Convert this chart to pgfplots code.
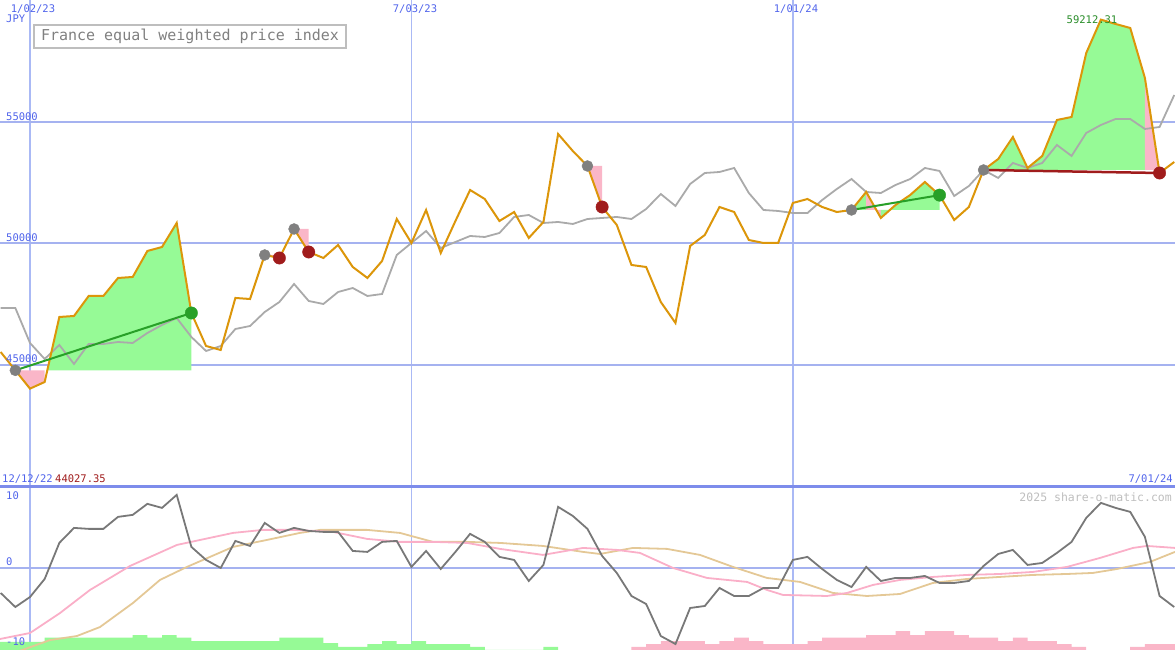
\documentclass[border=0pt]{standalone}
\usepackage{pgfplots}
\pgfplotsset{compat=1.18}
\usepackage{fontspec}
\setmainfont{DejaVu Sans Mono}

\definecolor{gridblue}{RGB}{165,178,240}
\definecolor{vgrid}{RGB}{170,185,245}
\definecolor{borderblue}{RGB}{125,140,235}
\definecolor{lblblue}{RGB}{80,100,235}
\definecolor{orangeline}{RGB}{220,150,10}
\definecolor{grayline}{RGB}{170,170,170}
\definecolor{fillgreen}{RGB}{150,250,150}
\definecolor{fillpink}{RGB}{250,182,200}
\definecolor{tradegreen}{RGB}{40,160,40}
\definecolor{labelgreen}{RGB}{40,140,40}
\definecolor{darkred}{RGB}{160,28,28}
\definecolor{dotgray}{RGB}{128,128,128}
\definecolor{boxgray}{RGB}{190,190,190}
\definecolor{momgray}{RGB}{120,120,120}
\definecolor{pinkline}{RGB}{250,175,200}
\definecolor{tanline}{RGB}{228,200,150}

\pgfplotsset{
  panel/.style={
    scale only axis, width=1175pt,
    xmin=-2.045, xmax=78.05,
    axis line style={draw=none}, tick style={draw=none},
    xtick={0,26,52}, xticklabels={}, yticklabels={},
    xmajorgrids, ymajorgrids,
    every axis x grid/.append style={vgrid, line width=1.5pt},
    every axis y grid/.append style={gridblue, line width=2pt},
  },
}

\begin{document}
\begin{tikzpicture}

% ---------- price panel (weeks from 1/02/23) ----------
\begin{axis}[panel, at={(0pt,163pt)}, height=487pt,
    ymin=39980, ymax=60020, ytick={45000,50000,55000}]

% trade areas
\addplot[fill=fillpink, draw=none] coordinates {(-1,44780) (0,44027) (1,44301) (1,44780)};
\addplot[fill=fillgreen, draw=none] coordinates {(1.18,44780) (2,46976) (3,47017) (4,47840) (5,47840)
  (6,48581) (7,48622) (8,49692) (9,49856) (10,50844) (11,47140) (11,44780)};
\addplot[fill=fillpink, draw=none] coordinates {(16,49527) (17,49404) (17,49527)};
\addplot[fill=fillpink, draw=none] coordinates {(18,50597) (19,49650) (19,50597)};
\addplot[fill=fillpink, draw=none] coordinates {(38,53189) (39,51502) (39,53189)};
\addplot[fill=fillgreen, draw=none] coordinates {(56,51379) (57,52120) (57,51379)};
\addplot[fill=fillpink, draw=none] coordinates {(57,51379) (57,52120) (58,51050) (58,51379)};
\addplot[fill=fillgreen, draw=none] coordinates {(58,51379) (58,51050) (59,51585) (60,51996)
  (61,52531) (62,51990) (62,51379)};
\addplot[fill=fillgreen, draw=none] coordinates {(65,53025) (66,53477) (67,54383) (68,53107)
  (69,53601) (70,55082) (71,55206) (72,57839) (73,59212) (74,59033) (75,58868) (76,56811) (76,53025)};
\addplot[fill=fillpink, draw=none] coordinates {(76,53025) (76,56811) (77,52901) (77,53025)};

% comparison index
\addplot[grayline, line width=1.8pt] coordinates {
 (-2,47346) (-1,47346) (0,45906) (1,45247) (2,45824) (3,45042) (4,45865) (5,45865)
 (6,45947) (7,45906) (8,46317) (9,46647) (10,46935) (11,46153) (12,45577) (13,45782)
 (14,46482) (15,46605) (16,47181) (17,47593) (18,48334) (19,47634) (20,47511) (21,48004)
 (22,48169) (23,47840) (24,47922) (25,49527) (26,50021) (27,50515) (28,49815) (29,50062)
 (30,50309) (31,50268) (32,50432) (33,51091) (34,51173) (35,50844) (36,50885) (37,50803)
 (38,51008) (39,51050) (40,51091) (41,51008) (42,51420) (43,52037) (44,51543) (45,52449)
 (46,52901) (47,52942) (48,53107) (49,52078) (50,51379) (51,51338) (52,51255) (53,51255)
 (54,51790) (55,52243) (56,52654) (57,52120) (58,52078) (59,52408) (60,52654) (61,53107)
 (62,52984) (63,51955) (64,52366) (65,53025) (66,52696) (67,53313) (68,53107) (69,53313)
 (70,54054) (71,53601) (72,54547) (73,54877) (74,55123) (75,55123) (76,54712) (77,54794)
 (78,56111)};

% price
\addplot[orangeline, line width=2pt] coordinates {
 (-2,45535) (-1,44780) (0,44027) (1,44301) (2,46976) (3,47017) (4,47840) (5,47840)
 (6,48581) (7,48622) (8,49692) (9,49856) (10,50844) (11,47140) (12,45782) (13,45618)
 (14,47758) (15,47716) (16,49527) (17,49404) (18,50597) (19,49650) (20,49404) (21,49939)
 (22,49033) (23,48581) (24,49280) (25,51008) (26,50021) (27,51379) (28,49609) (29,50926)
 (30,52202) (31,51831) (32,50926) (33,51296) (34,50227) (35,50885) (36,54506) (37,53807)
 (38,53189) (39,51502) (40,50762) (41,49116) (42,49033) (43,47593) (44,46729) (45,49897)
 (46,50350) (47,51502) (48,51296) (49,50144) (50,50021) (51,50021) (52,51667) (53,51831)
 (54,51502) (55,51296) (56,51379) (57,52120) (58,51050) (59,51585) (60,51996) (61,52531)
 (62,51990) (63,50967) (64,51502) (65,53025) (66,53477) (67,54383) (68,53107) (69,53601)
 (70,55082) (71,55206) (72,57839) (73,59212) (74,59033) (75,58868) (76,56811) (77,52901)
 (78,53354)};

% trade lines
\addplot[tradegreen, line width=2pt] coordinates {(-1,44780) (11,47140)};
\addplot[tradegreen, line width=2pt] coordinates {(56,51379) (62,51990)};
\addplot[darkred, line width=2.5pt] coordinates {(65,53025) (77,52901)};

% entry / exit dots
\addplot[only marks, mark=*, mark size=5.5pt, dotgray] coordinates {
 (-1,44780) (16,49527) (18,50597) (38,53189) (56,51379) (65,53025)};
\addplot[only marks, mark=*, mark size=6.2pt, darkred] coordinates {
 (17,49404) (19,49650) (39,51502) (77,52901)};
\addplot[only marks, mark=*, mark size=6.2pt, tradegreen] coordinates {
 (11,47140) (62,51990)};
\end{axis}

% ---------- oscillator panel ----------
\begin{axis}[panel, at={(0pt,0pt)}, height=163pt,
    ymin=-11.15, ymax=11.0, ytick={0}]

\addplot[const plot, fill=fillgreen, draw=none] coordinates {
 (-2.045,-11.15) (-2.045,-10.03) (1,-9.48) (7,-9.12) (8,-9.48) (9,-9.12) (10,-9.48)
 (11,-9.93) (17,-9.48) (20,-10.2) (21,-10.71) (23,-10.34) (24,-9.93) (25,-10.34)
 (26,-9.93) (27,-10.34) (30,-10.71) (31,-11.15) (35,-11.15) (35,-10.71) (36,-11.15)};
\addplot[const plot, fill=fillpink, draw=none] coordinates {
 (41,-11.15) (41,-10.71) (42,-10.34) (43,-9.93) (46,-10.34) (47,-9.93) (48,-9.48)
 (49,-9.93) (50,-10.34) (53,-9.93) (54,-9.48) (57,-9.12) (59,-8.57) (60,-9.12)
 (61,-8.57) (63,-9.12) (64,-9.48) (66,-9.93) (67,-9.48) (68,-9.93) (70,-10.34)
 (71,-10.71) (72,-11.15)};
\addplot[const plot, fill=fillpink, draw=none] coordinates {
 (75,-11.15) (75,-10.71) (76,-10.34) (78.05,-10.34) (78.05,-11.15)};

\addplot[tanline, line width=1.8pt] coordinates {
 (-2.05,-12.2) (-0.34,-11.02) (1.36,-9.80) (3.20,-9.25) (4.77,-8.03) (7.02,-4.76)
 (8.86,-1.63) (10.70,0.14) (13.84,2.86) (16.16,3.81) (18.40,4.76) (19.77,5.17)
 (22.97,5.17) (25.22,4.76) (27.47,3.54) (29.79,3.54) (32.04,3.40) (34.97,2.99)
 (37.70,2.18) (38.85,1.90) (41.10,2.72) (43.42,2.59) (45.67,1.77) (47.92,0.14)
 (50.24,-1.36) (52.49,-1.90) (54.74,-3.40) (57.05,-3.81) (59.30,-3.54) (61.55,-2.04)
 (63.87,-1.50) (66.12,-1.22) (68.37,-0.95) (70.69,-0.82) (72.46,-0.68) (74.10,-0.14)
 (76.35,0.82) (78.05,2.18)};
\addplot[pinkline, line width=1.8pt] coordinates {
 (-2.05,-9.66) (0,-8.84) (2.05,-6.12) (4.09,-2.99) (6.82,0.27) (10.02,3.13)
 (13.84,4.76) (15.88,5.17) (17.93,5.17) (20.65,4.90) (22.97,3.95) (25.22,3.54)
 (27.47,3.54) (29.79,3.40) (32.04,2.59) (34.97,1.77) (37.70,2.72) (40.01,2.45)
 (41.58,2.04) (43.83,0) (46.15,-1.36) (48.88,-1.90) (50.24,-2.99) (51.33,-3.67)
 (54.33,-3.81) (55.69,-3.40) (57.46,-2.31) (59.30,-1.63) (61.55,-1.22) (63.87,-0.95)
 (66.12,-0.82) (68.37,-0.54) (70.69,0.14) (72.94,1.36) (75.19,2.72) (76.14,2.99)
 (78.05,2.72)};
\addplot[momgray, line width=1.8pt] coordinates {
 (-2,-3.40) (-1,-5.31) (0,-3.95) (1,-1.50) (2,3.40) (3,5.44) (4,5.31) (5,5.31)
 (6,6.94) (7,7.21) (8,8.71) (9,8.16) (10,9.93) (11,2.86) (12,1.09) (13,0)
 (14,3.67) (15,2.99) (16,6.12) (17,4.76) (18,5.44) (19,5.03) (20,4.90) (21,4.90)
 (22,2.31) (23,2.18) (24,3.54) (25,3.67) (26,0.14) (27,2.31) (28,-0.14) (29,2.18)
 (30,4.63) (31,3.54) (32,1.50) (33,1.09) (34,-1.77) (35,0.41) (36,8.30) (37,7.07)
 (38,5.31) (39,1.63) (40,-0.68) (41,-3.81) (42,-4.90) (43,-9.25) (44,-10.34) (45,-5.44)
 (46,-5.17) (47,-2.72) (48,-3.81) (49,-3.81) (50,-2.72) (51,-2.72) (52,1.09) (53,1.50)
 (54,-0.14) (55,-1.63) (56,-2.59) (57,0.14) (58,-1.77) (59,-1.36) (60,-1.36) (61,-1.09)
 (62,-2.04) (63,-2.04) (64,-1.77) (65,0.27) (66,1.90) (67,2.45) (68,0.41) (69,0.68)
 (70,2.04) (71,3.54) (72,6.80) (73,8.84) (74,8.16) (75,7.62) (76,4.22) (77,-3.81)
 (78,-5.31)};
\end{axis}

% panel separator
\draw[borderblue, line width=3pt] (0pt,163pt) -- (1175pt,163pt);

% texts
\begin{scope}[every node/.style={inner sep=0pt, font=\fontsize{10.5}{10.5}\selectfont}]
\node[lblblue] at (33pt,640.5pt) {1/02/23};
\node[lblblue] at (415pt,640.5pt) {7/03/23};
\node[lblblue] at (796pt,640.5pt) {1/01/24};
\node[lblblue, anchor=west] at (6pt,631pt) {JPY};
\node[lblblue, anchor=west] at (6pt,533.5pt) {55000};
\node[lblblue, anchor=west] at (6pt,412pt) {50000};
\node[lblblue, anchor=west] at (6pt,291pt) {45000};
\node[lblblue, anchor=west] at (2pt,171pt) {12/12/22};
\node[darkred, anchor=west] at (55pt,171pt) {44027.35};
\node[lblblue, anchor=east] at (1173pt,171pt) {7/01/24};
\node[labelgreen] at (1092pt,630pt) {59212.31};
\node[lblblue, anchor=west] at (6pt,154pt) {10};
\node[lblblue, anchor=west] at (6pt,88pt) {0};
\node[lblblue, anchor=west] at (6pt,8pt) {-10};
\node[boxgray, anchor=east, font=\fontsize{11.5}{11.5}\selectfont] at (1172pt,153pt) {2025 share-o-matic.com};
\node[draw=boxgray, line width=2pt, anchor=west, text=dotgray, inner xsep=7pt,
  minimum height=23pt, font=\fontsize{15}{15}\selectfont] at (33pt,613.5pt)
  {France equal weighted price index};
\end{scope}

\pgfresetboundingbox
\useasboundingbox (0pt,0pt) rectangle (1175pt,650pt);
\end{tikzpicture}
\end{document}
